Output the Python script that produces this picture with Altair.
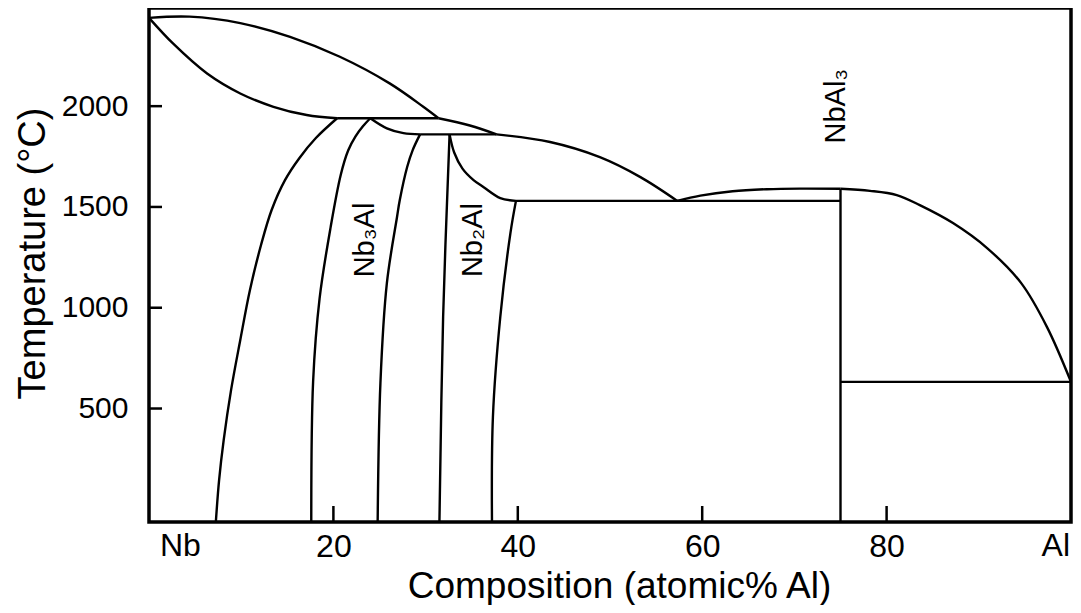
import altair as alt
import pandas as pd

W, H = 922, 514
FONT = "Liberation Sans"

# ---- phase boundaries (composition in at.% Al, temperature in deg C) ----
liq1_x = [0, 4.4, 9.9, 15.3, 20.7, 26.1, 29.75, 31.4]
liq1_t = [2438, 2444, 2412, 2344, 2245, 2113, 1997, 1940]

liq2_x = [31.4, 34.8, 37.7]
liq2_t = [1940, 1904, 1860]

liq3_x = [37.7, 43.5, 48.9, 53.3, 57.3]
liq3_t = [1860, 1822, 1747, 1648, 1530]

liq4_x = [57.3, 59.8, 63.3, 67.0, 70.6, 75.0]
liq4_t = [1530, 1556, 1578, 1588, 1591, 1590]

liq5_x = [75.0, 78.2, 81.1, 83.6, 87.2, 90.9, 94.6, 97.4, 100]
liq5_t = [1590, 1580, 1559, 1509, 1420, 1296, 1122, 904, 632]

sol_x = [0, 2.6, 6.3, 9.9, 13.5, 17.1, 20.4]
sol_t = [2438, 2311, 2162, 2063, 1997, 1956, 1940]

nbss_x = [20.4, 18.1, 16.3, 14.75, 13.3, 12.15, 10.95, 9.9, 8.9, 8.1, 7.6, 7.25]
nbss_t = [1940, 1842, 1742, 1633, 1485, 1311, 1088, 840, 591, 343, 144, -63]

nb3l_x = [24.0, 23.2, 22.4, 21.6, 20.8, 19.7, 18.5, 17.8, 17.6]
nb3l_t = [1940, 1900, 1850, 1780, 1660, 1400, 1045, 634, -63]

nb3top_x = [24.0, 25.8, 27.6, 29.4]
nb3top_t = [1940, 1890, 1866, 1860]

nb3r_x = [29.4, 28.6, 28.0, 27.2, 26.9, 25.8, 25.1, 24.8]
nb3r_t = [1860, 1782, 1698, 1534, 1450, 1122, 626, -63]

nb2l_x = [32.6, 31.9, 31.5]
nb2l_t = [1860, 954, -63]

nb2top_x = [32.6, 33.1, 34.0, 35.2, 36.3, 38.1, 39.8]
nb2top_t = [1860, 1770, 1690, 1633, 1598, 1544, 1530]

nb2r_x = [39.8, 39.2, 38.1, 37.3, 37.2]
nb2r_t = [1530, 1370, 954, 457, -63]

iso1940_x = [20.4, 31.4]
iso1940_t = [1940, 1940]
iso1860_x = [29.4, 37.7]
iso1860_t = [1860, 1860]
iso1530_x = [39.8, 75.0]
iso1530_t = [1530, 1530]
nbal3_x = [75.0, 75.0]
nbal3_t = [1590, -63]
iso632_x = [75.0, 100]
iso632_t = [632, 632]

# ---- axis ticks and labels ----
x_ticks = [20, 40, 60, 80]
y_ticks = [500, 1000, 1500, 2000]
end_labels = ["Nb", "Al"]
end_pos = [0, 100]

phase_names = ["Nb\u2083Al", "Nb\u2082Al", "NbAl\u2083"]
phase_x = [23.4, 35.1, 74.5]
phase_t = [1336, 1336, 2000]

curves = [
    (liq1_x, liq1_t), (liq2_x, liq2_t), (liq3_x, liq3_t), (liq4_x, liq4_t),
    (liq5_x, liq5_t), (sol_x, sol_t), (nbss_x, nbss_t), (nb3l_x, nb3l_t),
    (nb3top_x, nb3top_t), (nb3r_x, nb3r_t), (nb2l_x, nb2l_t),
    (nb2top_x, nb2top_t), (nb2r_x, nb2r_t), (iso1940_x, iso1940_t),
    (iso1860_x, iso1860_t), (iso1530_x, iso1530_t), (nbal3_x, nbal3_t),
    (iso632_x, iso632_t),
]
rows = []
for cid, (xs, ts) in enumerate(curves):
    for i, (xv, tv) in enumerate(zip(xs, ts)):
        rows.append({"c": cid, "i": i, "x": xv, "t": tv})
df = pd.DataFrame(rows)

xscale = alt.Scale(domain=[0, 100], nice=False, zero=False)
yscale = alt.Scale(domain=[-63, 2487], nice=False, zero=False)

xaxis = alt.Axis(
    values=x_ticks, format="d", tickSize=0, domain=False, grid=False, ticks=False,
    labelFont=FONT, labelFontSize=32, labelColor="black",
    labelPadding=34, labelBaseline="alphabetic",
    title="Composition (atomic% Al)", titleFont=FONT, titleFontSize=37,
    titleFontWeight="normal", titleColor="black", titleAlign="center",
    titleBaseline="alphabetic", titleY=75, titleX=470,
)
yaxis = alt.Axis(
    values=y_ticks, format="d", tickSize=0, domain=False, grid=False, ticks=False,
    labelFont=FONT, labelFontSize=30, labelColor="black",
    labelPadding=21,
    title="Temperature (\u00b0C)", titleFont=FONT, titleFontSize=38,
    titleFontWeight="normal", titleColor="black",
    titleAngle=270, titleBaseline="middle", titleX=-116, titleY=245,
)

def X():
    return alt.X("x:Q", scale=xscale, axis=xaxis)

def Y():
    return alt.Y("t:Q", scale=yscale, axis=yaxis)

lines = alt.Chart(df).mark_line(
    color="black", strokeWidth=2.4, interpolate="catmull-rom", clip=True
).encode(x=X(), y=Y(), detail="c:N", order="i:Q")

ytick_df = pd.DataFrame({"t": y_ticks})
yt = alt.Chart(ytick_df).mark_rule(color="black", strokeWidth=2.5).encode(
    y=Y(), x=alt.value(0), x2=alt.value(13),
)
xtick_df = pd.DataFrame({"x": x_ticks})
xt = alt.Chart(xtick_df).mark_rule(color="black", strokeWidth=2.5).encode(
    x=X(), y=alt.value(H), y2=alt.value(H - 16),
)

end_df = pd.DataFrame({"x": end_pos, "lab": end_labels})
nb_lab = alt.Chart(end_df.iloc[[0]]).mark_text(
    font=FONT, fontSize=32, align="left", baseline="alphabetic", dx=11, color="black"
).encode(x=X(), y=alt.value(H + 34), text="lab:N")
al_lab = alt.Chart(end_df.iloc[[1]]).mark_text(
    font=FONT, fontSize=32, align="right", baseline="alphabetic", dx=-1, color="black"
).encode(x=X(), y=alt.value(H + 34), text="lab:N")

ph_df = pd.DataFrame({"x": phase_x, "t": phase_t, "lab": phase_names})
ph = alt.Chart(ph_df).mark_text(
    font=FONT, fontSize=29, angle=270, align="center", baseline="middle", color="black"
).encode(x=X(), y=Y(), text="lab:N")

chart = alt.layer(lines, yt, xt, nb_lab, al_lab, ph).properties(
    width=W, height=H,
    padding={"left": 141, "top": 0, "right": 2, "bottom": 83},
    autosize=alt.AutoSizeParams(type="none"),
    background="white",
).configure_view(stroke="black", strokeWidth=3.5)

chart.save("out.html", embed_options={"renderer": "svg", "actions": False})
